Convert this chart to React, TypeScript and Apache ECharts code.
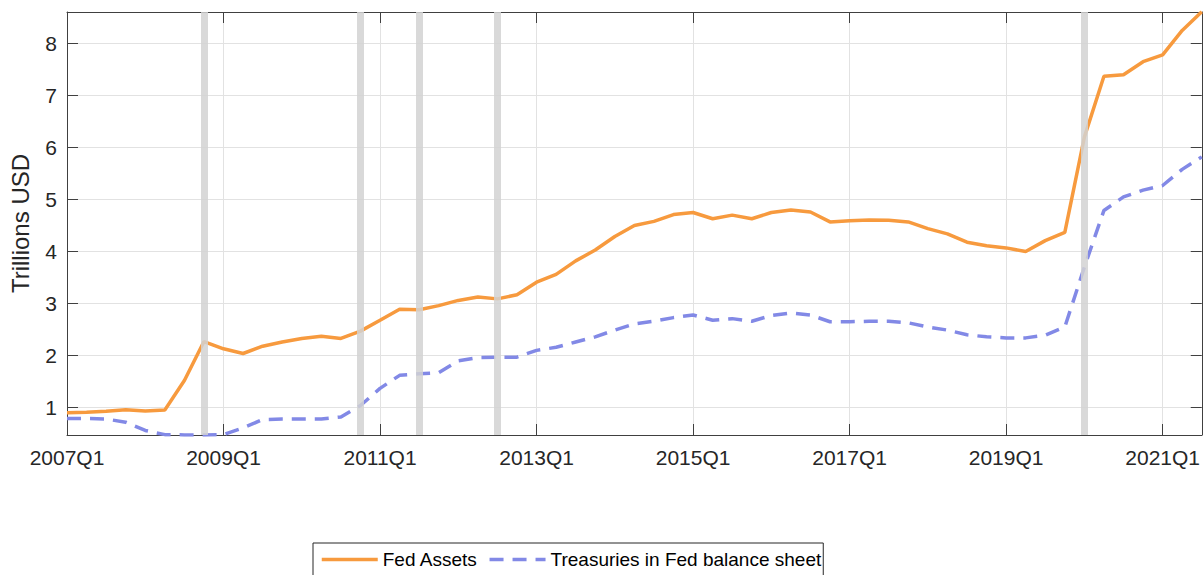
import React, { useEffect, useRef } from "react";
import * as echarts from "echarts";

const quarters: string[] = [];
for (let y = 2007; y <= 2021; y++) {
  for (let q = 1; q <= 4; q++) {
    if (quarters.length < 59) quarters.push(`${y}Q${q}`);
  }
}

const fedAssets = [
  0.90, 0.91, 0.93, 0.96, 0.935, 0.955, 1.52, 2.27, 2.13, 2.04,
  2.18, 2.26, 2.33, 2.37, 2.33, 2.47, 2.68, 2.89, 2.88, 2.96,
  3.06, 3.125, 3.09, 3.17, 3.41, 3.56, 3.82, 4.03, 4.29, 4.50,
  4.58, 4.71, 4.75, 4.63, 4.70, 4.63, 4.75, 4.80, 4.76, 4.57,
  4.59, 4.605, 4.60, 4.57, 4.44, 4.34, 4.18, 4.11, 4.07, 4.00,
  4.21, 4.37, 6.2, 7.37, 7.40, 7.65, 7.78, 8.25, 8.61,
];

const treasuries = [
  0.79, 0.79, 0.78, 0.72, 0.56, 0.48, 0.475, 0.475, 0.48, 0.61,
  0.77, 0.78, 0.78, 0.78, 0.82, 1.04, 1.37, 1.62, 1.65, 1.67,
  1.90, 1.96, 1.97, 1.97, 2.10, 2.16, 2.26, 2.36, 2.49, 2.61,
  2.66, 2.73, 2.78, 2.68, 2.71, 2.66, 2.77, 2.82, 2.78, 2.65,
  2.65, 2.66, 2.66, 2.63, 2.55, 2.49, 2.40, 2.36, 2.34, 2.34,
  2.39, 2.55, 3.70, 4.79, 5.05, 5.18, 5.27, 5.58, 5.82,
];

const eventQuarters = ["2008Q4", "2010Q4", "2011Q3", "2012Q3", "2020Q1"];

const yMin = 0.473;
const yMax = 8.605;

const FONT = "'Liberation Sans', Arial, Helvetica, sans-serif";
const AXIS_COLOR = "#404040";
const TEXT_COLOR = "#262626";
const GRID_COLOR = "#e2e2e2";

export default function App() {
  const ref = useRef<HTMLDivElement>(null);

  useEffect(() => {
    if (!ref.current) return;
    const chart = echarts.init(ref.current, undefined, { renderer: "svg" });

    const tickCommon = { show: true, inside: true, length: 11, lineStyle: { color: AXIS_COLOR, width: 1 } };

    chart.setOption({
      animation: false,
      backgroundColor: "#ffffff",
      textStyle: { fontFamily: FONT },
      grid: { left: 67, right: -1, top: 12, bottom: 140, containLabel: false },
      legend: {
        left: 313,
        top: 543,
        orient: "horizontal",
        itemWidth: 56,
        itemHeight: 14,
        itemGap: 10,
        padding: [7, 2, 7, 7],
        borderColor: TEXT_COLOR,
        borderWidth: 1,
        backgroundColor: "#ffffff",
        itemStyle: { opacity: 0 },
        lineStyle: { width: 3.5 },
        textStyle: { fontSize: 19, color: "#000000", fontFamily: FONT },
        data: ["Fed Assets", "Treasuries in Fed balance sheet"],
      },
      xAxis: [
        {
          type: "category",
          data: quarters,
          boundaryGap: false,
          position: "bottom",
          axisLine: { show: true, lineStyle: { color: AXIS_COLOR, width: 1 } },
          axisTick: { ...tickCommon, interval: 7 },
          axisLabel: { interval: 7, fontSize: 21, color: TEXT_COLOR, margin: 12, fontFamily: FONT },
          splitLine: { show: true, interval: 7, lineStyle: { color: GRID_COLOR, width: 1 } },
        },
        {
          type: "category",
          data: quarters,
          boundaryGap: false,
          position: "top",
          axisLine: { show: true, lineStyle: { color: AXIS_COLOR, width: 1 } },
          axisTick: { ...tickCommon, interval: 7 },
          axisLabel: { show: false },
          splitLine: { show: false },
        },
      ],
      yAxis: [
        {
          type: "value",
          min: yMin,
          max: yMax,
          splitNumber: 8,
          position: "left",
          name: "Trillions USD",
          nameLocation: "middle",
          nameGap: 35,
          nameTextStyle: { fontSize: 24, color: TEXT_COLOR, fontFamily: FONT },
          axisLine: { show: true, lineStyle: { color: AXIS_COLOR, width: 1 } },
          axisTick: tickCommon,
          axisLabel: { fontSize: 21, color: TEXT_COLOR, margin: 10, showMinLabel: false, showMaxLabel: false, fontFamily: FONT },
          splitLine: { show: true, lineStyle: { color: GRID_COLOR, width: 1 } },
        },
        {
          type: "value",
          min: yMin,
          max: yMax,
          splitNumber: 8,
          position: "right",
          axisLine: { show: true, lineStyle: { color: AXIS_COLOR, width: 1 } },
          axisTick: tickCommon,
          axisLabel: { show: false },
          splitLine: { show: false },
        },
      ],
      series: [
        {
          name: "Fed Assets",
          type: "line",
          data: fedAssets,
          symbol: "none",
          z: 2,
          lineStyle: { color: "#f79a3e", width: 3.5 },
          itemStyle: { color: "#f79a3e" },
        },
        {
          name: "Treasuries in Fed balance sheet",
          type: "line",
          data: treasuries,
          symbol: "none",
          z: 2,
          lineStyle: { color: "#8289e6", width: 3.5, type: [14, 9] },
          itemStyle: { color: "#8289e6" },
        },
        {
          name: "events",
          type: "line",
          data: [],
          symbol: "none",
          z: 5,
          markLine: {
            silent: true,
            symbol: ["none", "none"],
            label: { show: false },
            lineStyle: { color: "#d2d2d2", width: 7, type: "solid", opacity: 0.85 },
            data: eventQuarters.map((q) => ({ xAxis: q })),
          },
        },
      ],
    });

    return () => chart.dispose();
  }, []);

  return (
    <div
      ref={ref}
      style={{ position: "absolute", left: 0, top: 0, width: 1203, height: 575 }}
    />
  );
}
